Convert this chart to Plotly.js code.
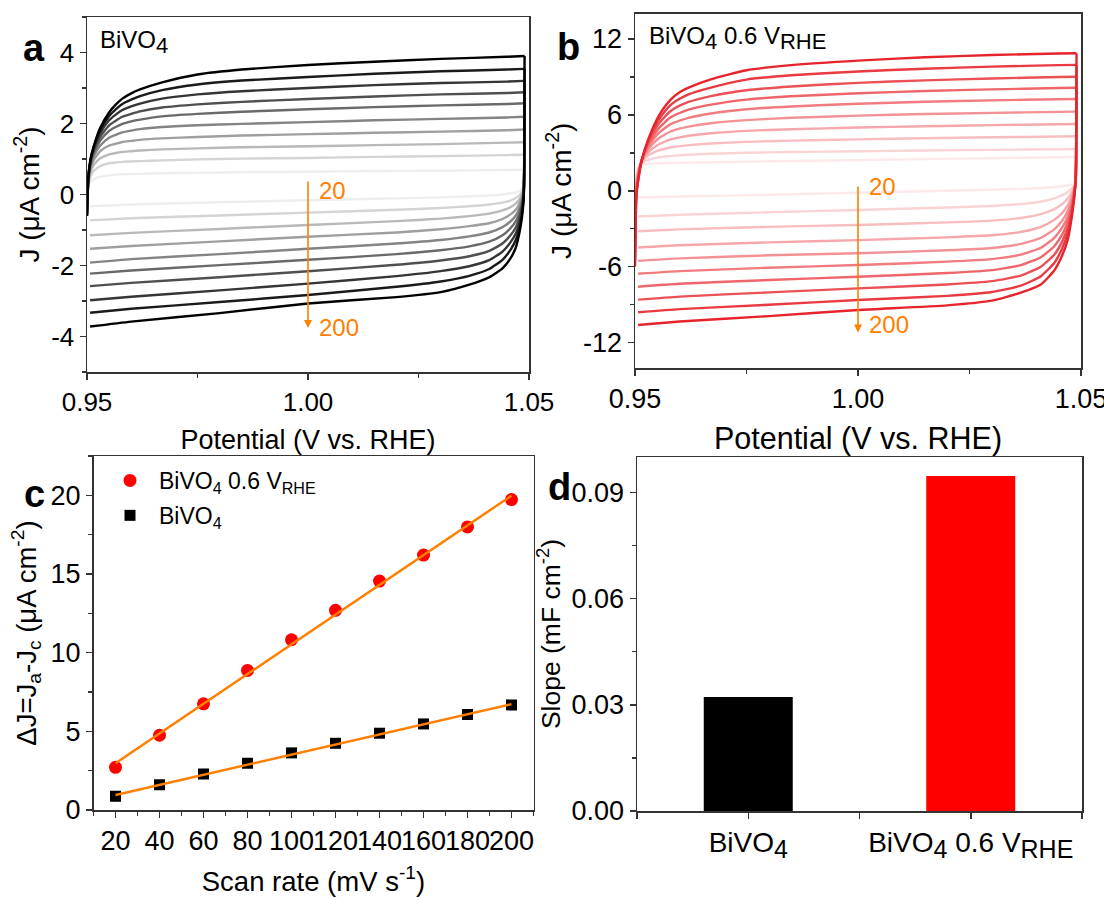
<!DOCTYPE html>
<html>
<head>
<meta charset="utf-8">
<script src="https://cdn.plot.ly/plotly-3.0.1.min.js"></script>
<style>html,body{margin:0;padding:0;background:#fff;}#chart{width:1104px;height:897px;}</style>
</head>
<body>
<div id="chart"></div>
<script>
// ---------------- DATA ----------------
const scanRates = [20, 40, 60, 80, 100, 120, 140, 160, 180, 200];

// potentials of the anodic (upper) and cathodic (lower) branches, V vs RHE
const cvUpPotential = [0.9500, 0.9503, 0.9508, 0.9515, 0.9530, 0.9550, 0.9565, 0.9580, 0.9600, 0.9620, 0.9670, 0.9750, 0.9850, 1.0000, 1.0150, 1.0300, 1.0450, 1.0490];
const cvDownPotential = [1.0488, 1.0484, 1.0478, 1.0470, 1.0458, 1.0440, 1.0410, 1.0365, 1.0300, 1.0200, 1.0000, 0.9800, 0.9600, 0.9507];

// Panel a (BiVO4): rows = potentials, columns = scan rates 20..200 (µA cm-2)
const aUpperJ = [
  [-0.20, -0.30, -0.35, -0.40, -0.45, -0.50, -0.55, -0.60, -0.60, -0.60],
  [0.20, 0.25, 0.30, 0.35, 0.40, 0.42, 0.44, 0.46, 0.48, 0.50],
  [0.35, 0.50, 0.62, 0.72, 0.80, 0.86, 0.91, 0.95, 0.98, 1.00],
  [0.43, 0.66, 0.83, 0.97, 1.08, 1.16, 1.23, 1.28, 1.32, 1.35],
  [0.50, 0.80, 1.02, 1.22, 1.38, 1.52, 1.63, 1.73, 1.81, 1.88],
  [0.54, 0.88, 1.13, 1.38, 1.60, 1.79, 1.95, 2.09, 2.21, 2.31],
  [0.555, 0.90, 1.17, 1.43, 1.68, 1.90, 2.08, 2.25, 2.40, 2.53],
  [0.57, 0.92, 1.20, 1.48, 1.75, 1.99, 2.19, 2.38, 2.55, 2.70],
  [0.575, 0.93, 1.22, 1.51, 1.80, 2.06, 2.27, 2.48, 2.67, 2.85],
  [0.58, 0.94, 1.24, 1.54, 1.84, 2.11, 2.34, 2.56, 2.77, 2.96],
  [0.60, 0.96, 1.27, 1.58, 1.90, 2.20, 2.45, 2.70, 2.94, 3.16],
  [0.61, 0.99, 1.30, 1.62, 1.95, 2.27, 2.54, 2.82, 3.10, 3.38],
  [0.63, 1.01, 1.33, 1.66, 1.99, 2.33, 2.61, 2.91, 3.21, 3.52],
  [0.64, 1.03, 1.36, 1.70, 2.04, 2.40, 2.69, 3.00, 3.31, 3.65],
  [0.66, 1.06, 1.39, 1.74, 2.09, 2.46, 2.76, 3.08, 3.40, 3.74],
  [0.67, 1.08, 1.42, 1.77, 2.13, 2.51, 2.82, 3.14, 3.47, 3.82],
  [0.69, 1.11, 1.46, 1.81, 2.17, 2.55, 2.86, 3.18, 3.52, 3.88],
  [0.70, 1.12, 1.47, 1.83, 2.19, 2.57, 2.88, 3.20, 3.54, 3.90]
];
const aLowerJ = [
  [0.24, 0.20, 0.17, 0.13, 0.09, 0.05, 0.01, -0.03, -0.07, -0.10],
  [0.16, 0.08, 0.01, -0.07, -0.15, -0.24, -0.33, -0.43, -0.55, -0.65],
  [0.10, -0.02, -0.14, -0.27, -0.40, -0.53, -0.67, -0.81, -0.95, -1.10],
  [0.06, -0.10, -0.26, -0.43, -0.60, -0.76, -0.93, -1.10, -1.28, -1.50],
  [0.03, -0.17, -0.36, -0.56, -0.76, -0.95, -1.15, -1.35, -1.56, -1.80],
  [0.00, -0.23, -0.45, -0.69, -0.92, -1.15, -1.38, -1.61, -1.84, -2.08],
  [-0.03, -0.28, -0.54, -0.81, -1.07, -1.33, -1.59, -1.85, -2.10, -2.33],
  [-0.05, -0.33, -0.61, -0.89, -1.18, -1.46, -1.74, -2.02, -2.29, -2.54],
  [-0.08, -0.38, -0.68, -0.98, -1.28, -1.57, -1.86, -2.16, -2.45, -2.75],
  [-0.11, -0.43, -0.75, -1.07, -1.38, -1.68, -1.98, -2.30, -2.60, -2.89],
  [-0.16, -0.51, -0.86, -1.19, -1.53, -1.84, -2.16, -2.51, -2.83, -3.07],
  [-0.22, -0.59, -0.97, -1.32, -1.68, -1.99, -2.33, -2.70, -3.03, -3.34],
  [-0.28, -0.67, -1.08, -1.45, -1.82, -2.14, -2.49, -2.88, -3.22, -3.58],
  [-0.33, -0.73, -1.15, -1.53, -1.92, -2.23, -2.58, -2.98, -3.33, -3.72]
];

// Panel b (BiVO4 0.6 V_RHE)
const bUpperJ = [
  [-0.5, -1.2, -2.0, -2.8, -3.5, -4.2, -4.8, -5.3, -5.7, -6.0],
  [1.2, 1.0, 0.8, 0.6, 0.4, 0.2, 0.0, -0.2, -0.4, -0.5],
  [1.9, 1.8, 1.7, 1.6, 1.5, 1.4, 1.3, 1.2, 1.1, 1.0],
  [2.05, 2.15, 2.25, 2.30, 2.35, 2.40, 2.40, 2.40, 2.40, 2.40],
  [2.12, 2.45, 2.80, 3.05, 3.30, 3.50, 3.70, 3.85, 4.00, 4.10],
  [2.16, 2.62, 3.15, 3.60, 4.05, 4.45, 4.80, 5.15, 5.45, 5.70],
  [2.18, 2.69, 3.30, 3.85, 4.40, 4.90, 5.35, 5.78, 6.18, 6.55],
  [2.19, 2.75, 3.42, 4.05, 4.68, 5.26, 5.80, 6.30, 6.78, 7.20],
  [2.21, 2.80, 3.52, 4.21, 4.90, 5.54, 6.14, 6.72, 7.26, 7.78],
  [2.22, 2.84, 3.60, 4.34, 5.06, 5.76, 6.40, 7.02, 7.62, 8.15],
  [2.25, 2.92, 3.73, 4.54, 5.33, 6.10, 6.80, 7.48, 8.15, 8.80],
  [2.30, 3.00, 3.86, 4.73, 5.58, 6.44, 7.20, 7.94, 8.78, 9.52],
  [2.35, 3.06, 3.96, 4.86, 5.76, 6.66, 7.46, 8.24, 9.12, 9.92],
  [2.42, 3.12, 4.06, 4.99, 5.93, 6.87, 7.70, 8.52, 9.42, 10.28],
  [2.50, 3.18, 4.15, 5.09, 6.06, 7.03, 7.88, 8.72, 9.64, 10.54],
  [2.57, 3.23, 4.22, 5.18, 6.15, 7.14, 8.01, 8.87, 9.80, 10.72],
  [2.65, 3.28, 4.28, 5.25, 6.23, 7.23, 8.11, 8.98, 9.92, 10.84],
  [2.68, 3.30, 4.30, 5.27, 6.25, 7.25, 8.13, 9.00, 9.94, 10.86]
];
const bLowerJ = [
  [0.62, 0.65, 0.68, 0.70, 0.72, 0.74, 0.76, 0.78, 0.80, 0.82],
  [0.55, 0.40, 0.25, 0.10, -0.05, -0.20, -0.35, -0.50, -0.65, -0.80],
  [0.48, 0.15, -0.20, -0.55, -0.85, -1.15, -1.45, -1.75, -2.05, -2.40],
  [0.42, -0.10, -0.62, -1.15, -1.62, -2.05, -2.48, -2.92, -3.35, -3.90],
  [0.36, -0.35, -1.05, -1.75, -2.35, -2.90, -3.45, -4.00, -4.55, -5.10],
  [0.30, -0.60, -1.45, -2.30, -3.05, -3.72, -4.38, -5.05, -5.70, -6.30],
  [0.22, -0.85, -1.85, -2.85, -3.72, -4.50, -5.25, -6.00, -6.75, -7.40],
  [0.15, -1.05, -2.15, -3.25, -4.20, -5.05, -5.88, -6.70, -7.50, -8.05],
  [0.08, -1.20, -2.36, -3.52, -4.52, -5.40, -6.27, -7.14, -8.00, -8.68],
  [0.00, -1.32, -2.50, -3.68, -4.70, -5.60, -6.50, -7.40, -8.30, -9.05],
  [-0.15, -1.52, -2.70, -3.90, -4.94, -5.87, -6.79, -7.71, -8.63, -9.42],
  [-0.32, -1.70, -2.85, -4.08, -5.10, -6.08, -7.05, -8.03, -9.00, -9.90],
  [-0.45, -1.90, -3.05, -4.30, -5.34, -6.35, -7.35, -8.36, -9.35, -10.33],
  [-0.53, -2.03, -3.20, -4.48, -5.54, -6.56, -7.58, -8.60, -9.60, -10.60]
];

// Panel c: ΔJ vs scan rate
const deltaJModified = [2.71, 4.75, 6.75, 8.87, 10.82, 12.69, 14.55, 16.20, 17.99, 19.73];
const deltaJPristine = [0.87, 1.61, 2.29, 2.97, 3.63, 4.24, 4.88, 5.47, 6.07, 6.68];
const fitScanRates = [20, 200];
const fitModified = [2.97, 19.98];
const fitPristine = [0.95, 6.73];

// Panel d: slopes (mF cm-2)
const sampleLabels = ['BiVO<sub>4</sub>', 'BiVO<sub>4</sub> 0.6 V<sub>RHE</sub>'];
const slopes = [0.0322, 0.0946];

// tick labels
const potentialTicks = [0.95, 1.00, 1.05];
const potentialTickText = ['0.95', '1.00', '1.05'];
const aJTicks = [-4, -2, 0, 2, 4];
const aJTickText = ['-4', '-2', '0', '2', '4'];
const bJTicks = [-12, -6, 0, 6, 12];
const bJTickText = ['-12', '-6', '0', '6', '12'];

// ---------------- STYLE ----------------
const FONT = 'Liberation Sans, Arial, sans-serif';
const ORANGE = '#FF8000';
const AXCOL = '#333333';
const W = 1104, H = 897;
const px = v => v / W;
const py = v => 1 - v / H;
const bigSub = (s, size) => s.replace(/<sub>/g, `<sub><span style="font-size:${size}px">`).replace(/<\/sub>/g, '</span></sub>');

function grayColor(i, n) {
  const g = Math.round(238 * (1 - i / (n - 1)));
  return `rgb(${g},${g},${g})`;
}
function redColor(i, n) {
  const t = 0.1 + 0.9 * i / (n - 1);
  const base = [230, 36, 44];
  const c = base.map(b => Math.round(255 - t * (255 - b)));
  return `rgb(${c[0]},${c[1]},${c[2]})`;
}

const traces = [];
function addCV(upper, lower, colorFn, xa, ya) {
  const n = scanRates.length;
  const lastUp = upper.length - 1;
  for (let k = 0; k < n; k++) {
    const line = { color: colorFn(k, n), width: 2.4, shape: 'spline', smoothing: 0.5 };
    // anodic branch
    traces.push({
      x: cvUpPotential, y: upper.map(r => r[k]), type: 'scatter', mode: 'lines',
      line: line, xaxis: xa, yaxis: ya, showlegend: false, hoverinfo: 'skip'
    });
    // cathodic branch, starting where the anodic branch ends
    traces.push({
      x: [cvUpPotential[lastUp]].concat(cvDownPotential),
      y: [upper[lastUp][k]].concat(lower.map(r => r[k])), type: 'scatter', mode: 'lines',
      line: line, xaxis: xa, yaxis: ya, showlegend: false, hoverinfo: 'skip'
    });
  }
}
addCV(aUpperJ, aLowerJ, grayColor, 'x', 'y');
addCV(bUpperJ, bLowerJ, redColor, 'x2', 'y2');

// Panel c
traces.push({
  x: scanRates, y: deltaJModified, type: 'scatter', mode: 'markers',
  marker: { symbol: 'circle', size: 13, color: '#FF0000' },
  name: 'BiVO<sub>4</sub> 0.6 V<sub>RHE</sub>', xaxis: 'x3', yaxis: 'y3', legendgroup: 'g1'
});
traces.push({
  x: scanRates, y: deltaJPristine, type: 'scatter', mode: 'markers',
  marker: { symbol: 'square', size: 11, color: '#000000' },
  name: 'BiVO<sub>4</sub>', xaxis: 'x3', yaxis: 'y3', legendgroup: 'g2'
});
traces.push({
  x: fitScanRates, y: fitModified, type: 'scatter', mode: 'lines',
  line: { color: ORANGE, width: 2.5 }, xaxis: 'x3', yaxis: 'y3', showlegend: false
});
traces.push({
  x: fitScanRates, y: fitPristine, type: 'scatter', mode: 'lines',
  line: { color: ORANGE, width: 2.5 }, xaxis: 'x3', yaxis: 'y3', showlegend: false
});

// Panel d
traces.push({
  x: sampleLabels.map((s, i) => i), y: slopes, type: 'bar', width: 0.4,
  marker: { color: ['#000000', '#FF0000'], line: { width: 0 } },
  xaxis: 'x4', yaxis: 'y4', showlegend: false
});

function minorTicks(extra) {
  return Object.assign({ ticklen: 4, ticks: 'outside', tickcolor: AXCOL, tickwidth: 1.5 }, extra);
}
function axisBase(extra) {
  return Object.assign({
    showline: true, mirror: true, linecolor: AXCOL, linewidth: 1.5,
    ticks: 'outside', ticklen: 6, tickwidth: 1.5, tickcolor: AXCOL,
    showgrid: false, zeroline: false, automargin: false, ticklabeloverflow: 'allow',
    tickfont: { family: FONT, size: 26, color: '#000' }
  }, extra);
}

const layout = {
  width: W, height: H,
  margin: { l: 0, r: 0, t: 0, b: 0 },
  paper_bgcolor: '#fff', plot_bgcolor: '#fff',
  font: { family: FONT, color: '#000' },
  showlegend: true,
  legend: {
    x: px(101), y: py(459), xanchor: 'left', yanchor: 'top',
    bgcolor: 'rgba(0,0,0,0)', borderwidth: 0,
    font: { family: FONT, size: 23, color: '#000' },
    itemwidth: 48, tracegroupgap: 2, traceorder: 'grouped'
  },
  xaxis: axisBase({
    domain: [px(87), px(529)], anchor: 'y', range: [0.95, 1.05],
    tickmode: 'array', tickvals: potentialTicks, ticktext: potentialTickText,
    minor: minorTicks({ tickmode: 'array', tickvals: [0.975, 1.025] }),
    title: { text: 'Potential (V vs. RHE)', font: { family: FONT, size: 27 }, standoff: 14 }
  }),
  yaxis: axisBase({
    domain: [py(372), py(17)], anchor: 'x', range: [-5, 5],
    tickmode: 'array', tickvals: aJTicks, ticktext: aJTickText,
    minor: minorTicks({ tickmode: 'array', tickvals: [-5, -3, -1, 1, 3, 5] }),
    title: { text: 'J (μA cm<sup>-2</sup>)', font: { family: FONT, size: 28 }, standoff: 3 }
  }),
  xaxis2: axisBase({
    domain: [px(635), px(1081)], anchor: 'y2', range: [0.95, 1.05],
    tickmode: 'array', tickvals: potentialTicks, ticktext: potentialTickText,
    tickfont: { family: FONT, size: 27, color: '#000' },
    minor: minorTicks({ tickmode: 'array', tickvals: [0.975, 1.025] }),
    title: { text: 'Potential (V vs. RHE)', font: { family: FONT, size: 30.5 }, standoff: 14 }
  }),
  yaxis2: axisBase({
    domain: [py(368), py(13.5)], anchor: 'x2', range: [-14, 14],
    tickmode: 'array', tickvals: bJTicks, ticktext: bJTickText,
    tickfont: { family: FONT, size: 27, color: '#000' },
    minor: minorTicks({ tickmode: 'array', tickvals: [-9, -3, 3, 9] }),
    title: { text: 'J (μA cm<sup>-2</sup>)', font: { family: FONT, size: 28 }, standoff: 3 }
  }),
  xaxis3: axisBase({
    domain: [px(93.5), px(533.5)], anchor: 'y3', range: [10, 210], dtick: 20, tick0: 0,
    tickangle: 0, tickfont: { family: FONT, size: 27, color: '#000' },
    minor: minorTicks({ dtick: 10, tick0: 0 }),
    title: { text: 'Scan rate (mV s<sup>-1</sup>)', font: { family: FONT, size: 27.5 }, standoff: 18 }
  }),
  yaxis3: axisBase({
    domain: [py(810), py(456)], anchor: 'x3', range: [0, 22.5], dtick: 5, tick0: 0,
    tickfont: { family: FONT, size: 27, color: '#000' },
    minor: minorTicks({ dtick: 2.5, tick0: 0 }),
    title: { text: 'ΔJ=J<sub>a</sub>-J<sub>c</sub> (μA cm<sup>-2</sup>)', font: { family: FONT, size: 27.5 }, standoff: 6 }
  }),
  xaxis4: axisBase({
    domain: [px(637), px(1082)], anchor: 'y4', range: [-0.5, 1.5],
    tickmode: 'array', tickvals: sampleLabels.map((s, i) => i), ticktext: sampleLabels.map(s => bigSub(s, 25)),
    tickfont: { family: FONT, size: 28, color: '#000' }, tickangle: 0,
    minor: minorTicks({ tickmode: 'array', tickvals: [-0.5, 0.5, 1.5], ticklen: 6 })
  }),
  yaxis4: axisBase({
    domain: [py(811), py(457)], anchor: 'x4', range: [0, 0.1], dtick: 0.03, tick0: 0, tickformat: '.2f',
    tickfont: { family: FONT, size: 27, color: '#000' },
    minor: minorTicks({ dtick: 0.015, tick0: 0 }),
    title: { text: 'Slope (mF cm<sup>-2</sup>)', font: { family: FONT, size: 26.5 }, standoff: 3 }
  }),
  annotations: [
    // panel letters
    { text: '<b>a</b>', xref: 'paper', yref: 'paper', x: px(34), y: py(48), xanchor: 'center', yanchor: 'middle', showarrow: false, font: { family: FONT, size: 38, color: '#000' } },
    { text: '<b>b</b>', xref: 'paper', yref: 'paper', x: px(568), y: py(47), xanchor: 'center', yanchor: 'middle', showarrow: false, font: { family: FONT, size: 38, color: '#000' } },
    { text: '<b>c</b>', xref: 'paper', yref: 'paper', x: px(34), y: py(494), xanchor: 'center', yanchor: 'middle', showarrow: false, font: { family: FONT, size: 38, color: '#000' } },
    { text: '<b>d</b>', xref: 'paper', yref: 'paper', x: px(559), y: py(487), xanchor: 'center', yanchor: 'middle', showarrow: false, font: { family: FONT, size: 38, color: '#000' } },
    // in-plot sample labels
    { text: bigSub('BiVO<sub>4</sub>', 22), xref: 'paper', yref: 'paper', x: px(98), y: py(42), xanchor: 'left', yanchor: 'middle', showarrow: false, font: { family: FONT, size: 24, color: '#000' } },
    { text: bigSub('BiVO<sub>4</sub> 0.6 V<sub>RHE</sub>', 22), xref: 'paper', yref: 'paper', x: px(647), y: py(38), xanchor: 'left', yanchor: 'middle', showarrow: false, font: { family: FONT, size: 24, color: '#000' } },
    // arrows (scan-rate direction)
    { xref: 'x', yref: 'y', axref: 'x', ayref: 'y', x: 1.0, y: -3.76, ax: 1.0, ay: 0.41, text: '', showarrow: true, arrowhead: 2, arrowsize: 1, arrowwidth: 1.6, arrowcolor: ORANGE },
    { xref: 'x', yref: 'y', x: 1.0, y: 0.1, xshift: 9, text: String(scanRates[0]), xanchor: 'left', yanchor: 'middle', showarrow: false, font: { family: FONT, size: 24, color: ORANGE } },
    { xref: 'x', yref: 'y', x: 1.0, y: -3.76, xshift: 9, text: String(scanRates[scanRates.length - 1]), xanchor: 'left', yanchor: 'middle', showarrow: false, font: { family: FONT, size: 24, color: ORANGE } },
    { xref: 'x2', yref: 'y2', axref: 'x2', ayref: 'y2', x: 1.0, y: -11.2, ax: 1.0, ay: 0.45, text: '', showarrow: true, arrowhead: 2, arrowsize: 1, arrowwidth: 1.6, arrowcolor: ORANGE },
    { xref: 'x2', yref: 'y2', x: 1.0, y: 0.3, xshift: 9, text: String(scanRates[0]), xanchor: 'left', yanchor: 'middle', showarrow: false, font: { family: FONT, size: 24, color: ORANGE } },
    { xref: 'x2', yref: 'y2', x: 1.0, y: -10.6, xshift: 9, text: String(scanRates[scanRates.length - 1]), xanchor: 'left', yanchor: 'middle', showarrow: false, font: { family: FONT, size: 24, color: ORANGE } }
  ]
};

Plotly.newPlot('chart', traces, layout, { staticPlot: true, displayModeBar: false });
</script>
</body>
</html>
